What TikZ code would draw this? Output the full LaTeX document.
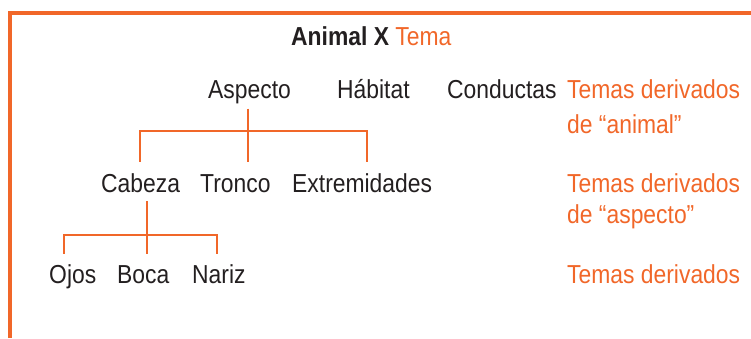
\documentclass[tikz,border=0pt]{standalone}
\usepackage{fontspec}
\setmainfont{Liberation Sans}[FakeStretch=0.88]
\definecolor{temaorange}{RGB}{241,103,41}
\definecolor{textgray}{RGB}{35,31,32}
\tikzset{
    word/.style={anchor=base west, inner sep=0pt, text=textgray,
        font=\fontsize{26}{30}\selectfont},
    derived/.style={word, text=temaorange},
    branch/.style={draw=temaorange, line width=2.9pt},
    frameline/.style={draw=temaorange, line width=4pt}
}

\begin{document}
\begin{tikzpicture}[x=1pt,y=-1pt]
    \useasboundingbox (0,0) rectangle (751,338);
    \draw[frameline] (10,338) |- (751,13);

    % title
    \node[word] (title) at (291,45.5) {\textbf{Animal X} \textcolor{temaorange}{Tema}};

    % first level
    \node[word] (asp) at (208,98) {Aspecto};
    \node[word] (hab) at (337,98) {Hábitat};
    \node[word] (con) at (447,98) {Conductas};
    \node[derived] (der1) at (567,98) {Temas derivados};
    \node[derived] (der1b) at (567,133) {de “animal”};

    % second level
    \node[word] (cab) at (101,192) {Cabeza};
    \node[word] (tro) at (200,192) {Tronco};
    \node[word] (ext) at (292,192) {Extremidades};
    \node[derived] (der2) at (567,192) {Temas derivados};
    \node[derived] (der2b) at (567,223.5) {de “aspecto”};

    % third level
    \node[word] (ojo) at (49,283) {Ojos};
    \node[word] (boc) at (117,283) {Boca};
    \node[word] (nar) at (192,283) {Nariz};
    \node[derived] (der3) at (567,283) {Temas derivados};

    % brackets
    \coordinate (j1) at (248,131);
    \coordinate (l1) at (140,131);
    \coordinate (r1) at (367,131);
    \coordinate (j2) at (147,235);
    \coordinate (l2) at (64,235);
    \coordinate (r2) at (217,235);
    \path ([yshift=-5pt]asp.south) coordinate (asp-b)
          ([yshift=12pt]tro.north) coordinate (row2-t)
          ([yshift=-9pt]cab.base) coordinate (cab-b)
          ([yshift=11pt]boc.north) coordinate (row3-t);

    \draw[branch] (j1 |- asp-b) -- (j1 |- row2-t);
    \draw[branch] (l1 |- row2-t) -- (l1) -- (r1) -- (r1 |- row2-t);
    \draw[branch] (j2 |- cab-b) -- (j2 |- row3-t);
    \draw[branch] (l2 |- row3-t) -- (l2) -- (r2) -- (r2 |- row3-t);
\end{tikzpicture}
\end{document}
